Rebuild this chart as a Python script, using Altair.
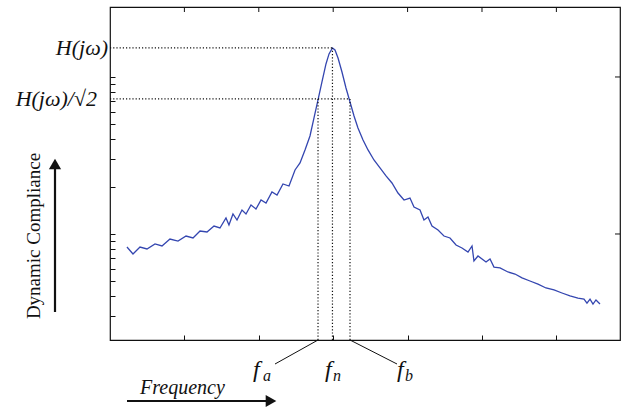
import altair as alt
import pandas as pd

# ---- data (frequency in tick units, compliance on log axis) ----
freq = [0.228, 0.309, 0.403, 0.497, 0.605, 0.699, 0.806, 0.914, 1.022, 1.116,
        1.210, 1.304, 1.398, 1.478, 1.559, 1.599, 1.653, 1.707, 1.774, 1.828,
        1.895, 1.962, 2.030, 2.097, 2.177, 2.245, 2.325, 2.406, 2.487, 2.554,
        2.621, 2.688, 2.742, 2.796, 2.849, 2.903, 2.944, 2.990, 3.024, 3.065,
        3.118, 3.172, 3.226, 3.280, 3.333, 3.401, 3.468, 3.548, 3.629, 3.710,
        3.790, 3.871, 3.952, 4.032, 4.086, 4.167, 4.220, 4.274, 4.328, 4.409,
        4.489, 4.570, 4.651, 4.731, 4.812, 4.866, 4.892, 4.946, 5.054, 5.108,
        5.161, 5.242, 5.349, 5.444, 5.538, 5.645, 5.753, 5.860, 5.968, 6.075,
        6.183, 6.290, 6.371, 6.411, 6.452, 6.492, 6.532, 6.586]
compliance = [0.826, 0.746, 0.826, 0.803, 0.864, 0.839, 0.929, 0.902, 0.971, 0.943,
              1.045, 1.030, 1.124, 1.092, 1.264, 1.141, 1.341, 1.228, 1.422, 1.341,
              1.530, 1.443, 1.646, 1.576, 1.851, 1.772, 2.082, 2.021, 2.557, 2.833,
              3.428, 4.209, 5.483, 7.137, 9.294, 12.10, 14.02, 15.30, 14.86, 13.21,
              10.76, 8.51, 6.93, 5.64, 4.73, 3.97, 3.43, 2.96, 2.633, 2.342,
              2.113, 1.824, 1.646, 1.695, 1.486, 1.422, 1.228, 1.283, 1.124, 1.060,
              0.971, 0.943, 0.851, 0.814, 0.768, 0.839, 0.673, 0.724, 0.663, 0.693,
              0.616, 0.608, 0.573, 0.556, 0.525, 0.502, 0.480, 0.453, 0.440, 0.421,
              0.403, 0.391, 0.385, 0.363, 0.385, 0.358, 0.380, 0.358]

F_A, F_N, F_B = 2.796, 2.99, 3.226
H_PEAK, H_HALF = 15.3, 7.25

x_ticks = [1, 2, 3, 4, 5, 6]
y_ticks_left = [0.3, 0.4, 0.5, 0.6, 0.7, 0.8, 0.9, 1, 2, 3, 4, 5, 6, 7, 8, 9, 10]
y_ticks_right = [1, 10]

X_DOMAIN = [0, 6.855]
Y_DOMAIN = [0.2113, 27.9]

W, H = 510, 333
SERIF = "Liberation Serif"
INK = "#111111"

xs = alt.Scale(domain=X_DOMAIN, nice=False, zero=False)
ys = alt.Scale(type="log", domain=Y_DOMAIN, nice=False)

x_axis = alt.Axis(values=x_ticks, labels=False, domain=False, grid=False,
                  tickSize=5, offset=-5, title=None, tickColor=INK, tickWidth=1)
y_axis = alt.Axis(values=y_ticks_left, labels=False, domain=False, grid=False,
                  tickSize=5, offset=-5, title=None, tickColor=INK, tickWidth=1)

curve_df = pd.DataFrame({"f": freq, "c": compliance, "i": range(len(freq))})

curve = alt.Chart(curve_df).mark_line(color="#3446b0", strokeWidth=1.3).encode(
    x=alt.X("f:Q", scale=xs, axis=x_axis),
    y=alt.Y("c:Q", scale=ys, axis=y_axis),
    order="i:Q",
)

# top ticks and right ticks (inward)
top_ticks = alt.Chart(pd.DataFrame({"f": x_ticks})).mark_rule(color=INK, strokeWidth=1).encode(
    x=alt.X("f:Q", scale=xs), y=alt.value(0), y2=alt.value(5))
right_ticks = alt.Chart(pd.DataFrame({"c": y_ticks_right})).mark_rule(color=INK, strokeWidth=1).encode(
    y=alt.Y("c:Q", scale=ys), x=alt.value(W - 5), x2=alt.value(W))

# dotted guide lines
guides = pd.DataFrame({
    "f":  [X_DOMAIN[0], X_DOMAIN[0], F_N, F_A, F_B],
    "f2": [F_N, F_B, F_N, F_A, F_B],
    "c":  [H_PEAK, H_HALF, Y_DOMAIN[0], Y_DOMAIN[0], Y_DOMAIN[0]],
    "c2": [H_PEAK, H_HALF, H_PEAK, H_HALF, H_HALF],
})
dotted = alt.Chart(guides).mark_rule(color=INK, strokeWidth=1.2, strokeDash=[1.2, 2]).encode(
    x=alt.X("f:Q", scale=xs), x2="f2:Q",
    y=alt.Y("c:Q", scale=ys), y2="c2:Q")

# level labels on the left
lev_df = pd.DataFrame({"c": [H_PEAK, H_HALF], "t": ["H(jω)", "H(jω)/√2"], "xx": [-2, -13]})
lev_labels = alt.Chart(lev_df).mark_text(font=SERIF, fontStyle="italic", fontSize=22,
                                         align="right", baseline="middle", color=INK).encode(
    y=alt.Y("c:Q", scale=ys), x=alt.X("xx:Q", scale=None), text="t:N")

# leader lines from fa / fb to labels
lead_a = alt.Chart(pd.DataFrame({"f": [F_A]})).mark_rule(color=INK, strokeWidth=1).encode(
    x=alt.X("f:Q", scale=xs), y=alt.value(H), x2=alt.value(165), y2=alt.value(357))
lead_b = alt.Chart(pd.DataFrame({"f": [F_B]})).mark_rule(color=INK, strokeWidth=1).encode(
    x=alt.X("f:Q", scale=xs), y=alt.value(H), x2=alt.value(287), y2=alt.value(357))

f_df = pd.DataFrame({"xx": [143, 215, 287], "t": ["f", "f", "f"]})
f_main = alt.Chart(f_df).mark_text(font=SERIF, fontStyle="italic", fontSize=24,
                                   align="left", baseline="alphabetic", color=INK).encode(
    x=alt.X("xx:Q", scale=None), y=alt.value(370), text="t:N")
sub_df = pd.DataFrame({"xx": [153, 223, 295], "t": ["a", "n", "b"]})
f_sub = alt.Chart(sub_df).mark_text(font=SERIF, fontStyle="italic", fontSize=16,
                                    align="left", baseline="alphabetic", color=INK).encode(
    x=alt.X("xx:Q", scale=None), y=alt.value(374), text="t:N")

# axis captions with arrows
freq_text = alt.Chart(pd.DataFrame({"t": ["Frequency"]})).mark_text(
    font=SERIF, fontStyle="italic", fontSize=20, align="left", baseline="alphabetic", color=INK
).encode(x=alt.value(30), y=alt.value(387), text="t:N")
freq_shaft = alt.Chart(pd.DataFrame({"t": [0]})).mark_rule(color=INK, strokeWidth=2.2).encode(
    x=alt.value(17), x2=alt.value(158), y=alt.value(394))
freq_head = alt.Chart(pd.DataFrame({"t": [0]})).mark_point(
    shape="triangle-right", filled=True, size=150, color=INK, opacity=1).encode(
    x=alt.value(161), y=alt.value(394))

dyn_text = alt.Chart(pd.DataFrame({"t": ["Dynamic Compliance"]})).mark_text(
    font=SERIF, fontSize=19, angle=270, align="center", baseline="middle", color=INK
).encode(x=alt.value(-76), y=alt.value(229), text="t:N")
dyn_shaft = alt.Chart(pd.DataFrame({"t": [0]})).mark_rule(color=INK, strokeWidth=2.2).encode(
    x=alt.value(-55), y=alt.value(305), y2=alt.value(160))
dyn_head = alt.Chart(pd.DataFrame({"t": [0]})).mark_point(
    shape="triangle-up", filled=True, size=150, color=INK, opacity=1).encode(
    x=alt.value(-55), y=alt.value(157))

chart = alt.layer(
    curve, top_ticks, right_ticks, dotted, lev_labels, lead_a, lead_b,
    f_main, f_sub, freq_text, freq_shaft, freq_head, dyn_text, dyn_shaft, dyn_head,
).properties(
    width=W, height=H,
    autosize=alt.AutoSizeParams(type="none"),
    padding={"left": 110, "top": 7, "right": 2, "bottom": 75},
    background="white",
).configure_view(stroke=INK, strokeWidth=1.2)

chart.save("out.html", embed_options={"renderer": "svg", "actions": False})
